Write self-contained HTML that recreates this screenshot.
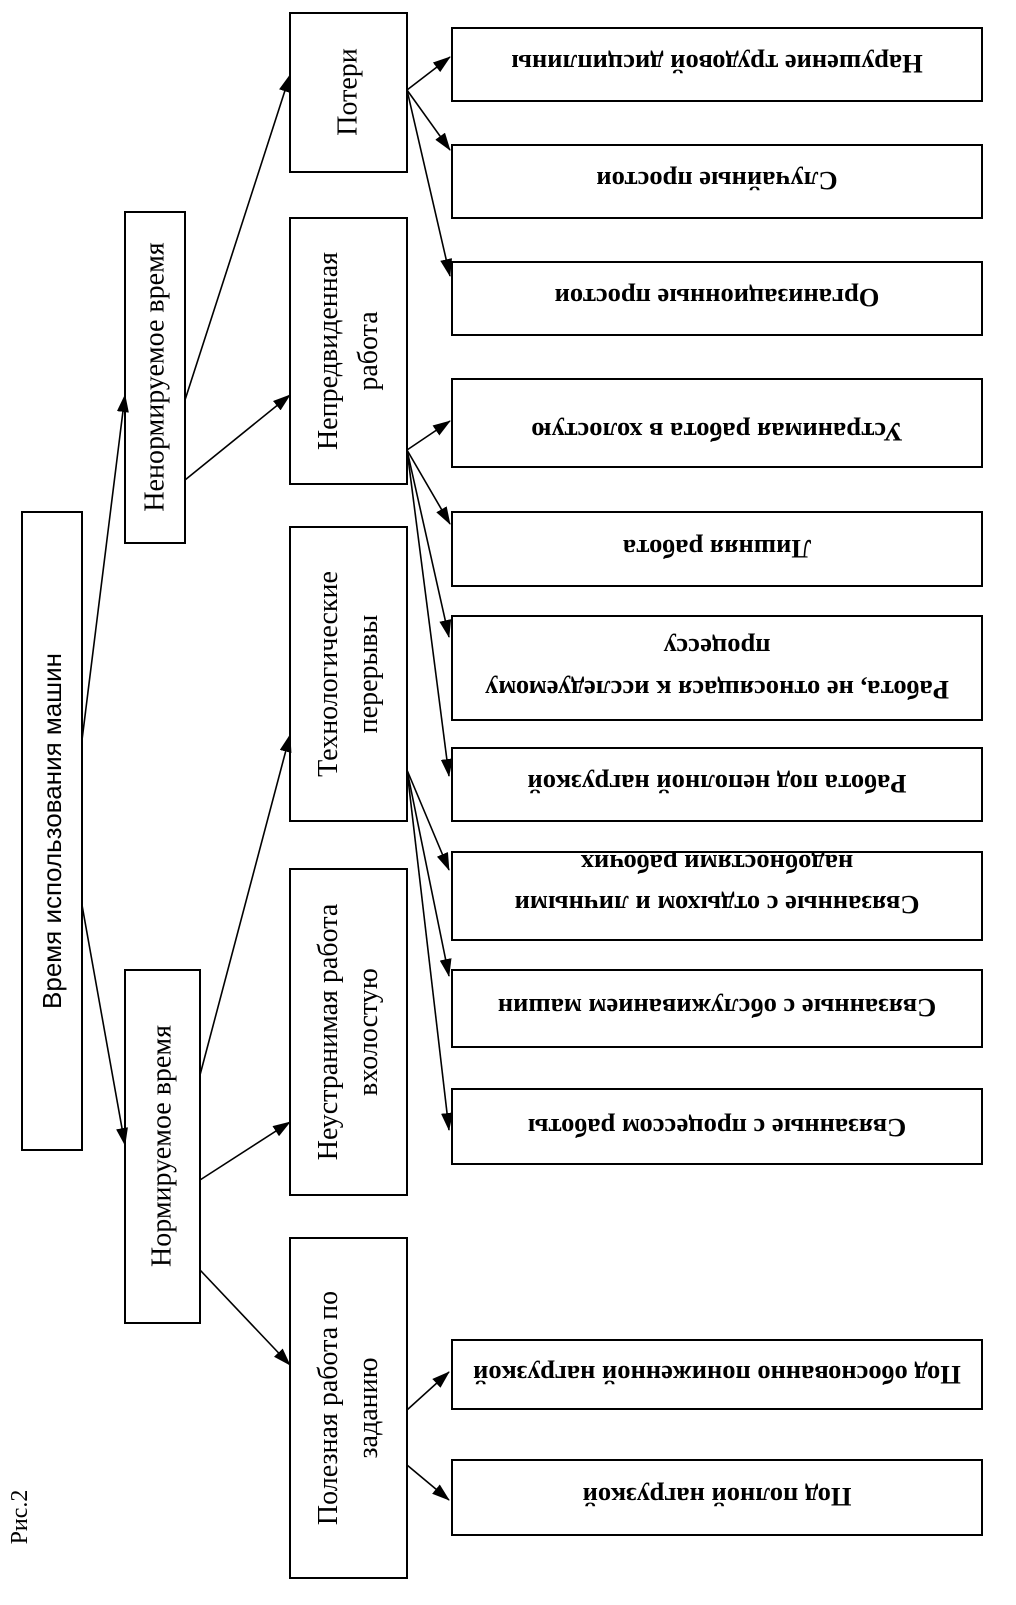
<!DOCTYPE html>
<html><head><meta charset="utf-8"><style>html,body{margin:0;padding:0;background:#fff}</style></head>
<body>
<svg width="1016" height="1600" viewBox="0 0 1016 1600" xmlns="http://www.w3.org/2000/svg">
<defs>
<marker id="a" markerWidth="18" markerHeight="12" refX="17" refY="6" orient="auto" markerUnits="userSpaceOnUse">
<path d="M0,0 L18,6 L0,12 Z" fill="#000"/></marker>
<clipPath id="c8"><rect x="452" y="852" width="530" height="88"/></clipPath>
</defs>
<g fill="#fff" stroke="#000" stroke-width="2">
<rect x="22" y="512" width="60" height="638"/>
<rect x="125" y="212" width="60" height="331"/>
<rect x="125" y="970" width="75" height="353"/>
<rect x="290" y="13" width="117" height="159"/>
<rect x="290" y="218" width="117" height="266"/>
<rect x="290" y="527" width="117" height="294"/>
<rect x="290" y="869" width="117" height="326"/>
<rect x="290" y="1238" width="117" height="340"/>
<rect x="452" y="28" width="530" height="73"/>
<rect x="452" y="145" width="530" height="73"/>
<rect x="452" y="262" width="530" height="73"/>
<rect x="452" y="379" width="530" height="88"/>
<rect x="452" y="512" width="530" height="74"/>
<rect x="452" y="616" width="530" height="104"/>
<rect x="452" y="748" width="530" height="73"/>
<rect x="452" y="852" width="530" height="88"/>
<rect x="452" y="970" width="530" height="77"/>
<rect x="452" y="1089" width="530" height="75"/>
<rect x="452" y="1340" width="530" height="69"/>
<rect x="452" y="1460" width="530" height="75"/>
</g>
<g stroke="#000" stroke-width="1.6" fill="none" marker-end="url(#a)">
<line x1="82" y1="740" x2="125" y2="395"/>
<line x1="82" y1="905" x2="125" y2="1145"/>
<line x1="185" y1="400" x2="290" y2="75"/>
<line x1="185" y1="480" x2="290" y2="395"/>
<line x1="200" y1="1075" x2="290" y2="735"/>
<line x1="200" y1="1180" x2="290" y2="1122"/>
<line x1="200" y1="1270" x2="290" y2="1365"/>
<line x1="407" y1="90" x2="450" y2="57"/>
<line x1="407" y1="90" x2="450" y2="150"/>
<line x1="407" y1="90" x2="450" y2="276"/>
<line x1="407" y1="450" x2="450" y2="421"/>
<line x1="407" y1="450" x2="450" y2="524"/>
<line x1="407" y1="450" x2="449" y2="637"/>
<line x1="407" y1="450" x2="449" y2="776"/>
<line x1="407" y1="770" x2="449" y2="870"/>
<line x1="407" y1="770" x2="449" y2="976"/>
<line x1="407" y1="770" x2="449" y2="1130"/>
<line x1="407" y1="1410" x2="449" y2="1372"/>
<line x1="407" y1="1465" x2="449" y2="1500"/>
</g>
<g font-family="Liberation Serif, serif" font-size="28" text-anchor="middle" dominant-baseline="central" fill="#000">
<text transform="rotate(-90 52 831)" x="52" y="831" font-family="Liberation Sans, sans-serif" font-size="26">Время использования машин</text>
<text transform="rotate(-90 155 377)" x="155" y="377">Ненормируемое время</text>
<text transform="rotate(-90 162 1146)" x="162" y="1146">Нормируемое время</text>
<text transform="rotate(-90 348 92)" x="348" y="92">Потери</text>
<text transform="rotate(-90 348 351)" x="348" y="351"><tspan x="348" y="331">Непредвиденная</tspan><tspan x="348" y="371">работа</tspan></text>
<text transform="rotate(-90 348 674)" x="348" y="674"><tspan x="348" y="654">Технологические</tspan><tspan x="348" y="694">перерывы</tspan></text>
<text transform="rotate(-90 348 1032)" x="348" y="1032"><tspan x="348" y="1012">Неустранимая работа</tspan><tspan x="348" y="1052">вхолостую</tspan></text>
<text transform="rotate(-90 348 1408)" x="348" y="1408"><tspan x="348" y="1388">Полезная работа по</tspan><tspan x="348" y="1428">заданию</tspan></text>
<text transform="rotate(-90 20 1517)" x="20" y="1517" font-size="24">Рис.2</text>
</g>
<g font-family="Liberation Serif, serif" font-size="26.5" font-weight="bold" text-anchor="middle" dominant-baseline="central" fill="#000">
<text transform="rotate(180 717 64)" x="717" y="64">Нарушение трудовой дисциплины</text>
<text transform="rotate(180 717 181)" x="717" y="181">Случайные простои</text>
<text transform="rotate(180 717 298)" x="717" y="298">Организационные простои</text>
<text transform="rotate(180 717 432)" x="717" y="432">Устранимая работа в холостую</text>
<text transform="rotate(180 717 549)" x="717" y="549">Лишняя работа</text>
<text transform="rotate(180 717 668)" x="717" y="668"><tspan x="717" y="646">Работа, не относящася к исследуемому</tspan><tspan x="717" y="688">процессу</tspan></text>
<text transform="rotate(180 717 784)" x="717" y="784">Работа  под  неполной нагрузкой</text>
<g clip-path="url(#c8)"><text transform="rotate(180 717 896)" x="717" y="896"><tspan x="717" y="887">Связанные с отдыхом и личными</tspan><tspan x="717" y="928">надобностями рабочих</tspan></text></g>
<text transform="rotate(180 717 1008)" x="717" y="1008">Связанные с обслуживанием машин</text>
<text transform="rotate(180 717 1128)" x="717" y="1128">Связанные с процессом работы</text>
<text transform="rotate(180 717 1375)" x="717" y="1375">Под обоснованно  пониженной нагрузкой</text>
<text transform="rotate(180 717 1497)" x="717" y="1497">Под полной нагрузкой</text>
</g>
</svg>
</body></html>
